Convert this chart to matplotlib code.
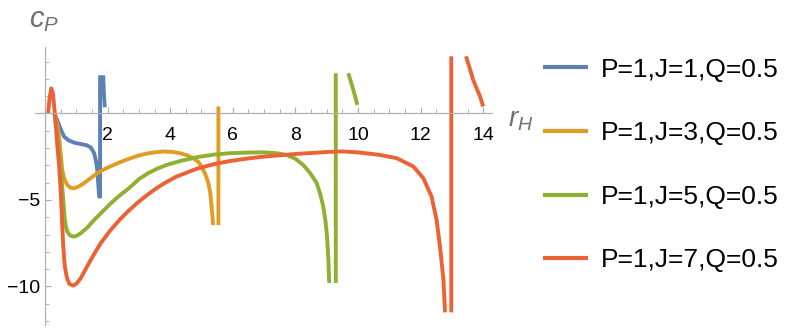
import matplotlib
matplotlib.use("Agg")
import matplotlib.pyplot as plt
import numpy as np

plt.rcParams['font.family'] = ['Liberation Sans', 'DejaVu Sans']
plt.rcParams['mathtext.fontset'] = 'custom'
plt.rcParams['mathtext.it'] = 'Liberation Sans:italic'
plt.rcParams['mathtext.rm'] = 'Liberation Sans'

nan = np.nan

# J=1 : left branch, pole line, right branch (nan breaks the line)
r_j1 = [0.32, 0.39, 0.50, 0.61, 0.75, 0.93, 1.15, 1.35, 1.47, 1.57, 1.63, 1.67, 1.70,
        1.73, 1.76, 1.76, nan, 1.86, 1.88, 1.91]
c_j1 = [-0.10, -0.38, -0.90, -1.34, -1.55, -1.69, -1.77, -1.85, -1.98, -2.30, -2.75,
        -3.27, -4.00, -4.81, -4.81, 2.20, nan, 2.20, 1.20, 0.35]

# J=3
r_j3 = [0.30, 0.38, 0.45, 0.50, 0.55, 0.62, 0.71, 0.80, 0.90, 1.05, 1.25, 1.45, 1.67,
        1.90, 2.10, 2.40, 2.68, 3.00, 3.25, 3.50, 3.78, 4.05, 4.31, 4.55, 4.74, 4.90,
        5.00, 5.12, 5.22, 5.28, 5.32, 5.35, 5.37, nan, 5.54, 5.54]
c_j3 = [0.0, -0.5, -1.34, -2.3, -3.27, -3.8, -4.13, -4.28, -4.33, -4.25, -4.03, -3.75,
        -3.46, -3.22, -3.05, -2.82, -2.62, -2.43, -2.32, -2.25, -2.2, -2.22, -2.3, -2.43,
        -2.59, -2.8, -3.07, -3.5, -4.03, -4.6, -5.38, -5.95, -6.45, nan, -6.45, 0.4]

# J=5
r_j5 = [0.30, 0.38, 0.45, 0.50, 0.55, 0.60, 0.63, 0.67, 0.71, 0.80, 0.90, 1.00, 1.14,
        1.35, 1.57, 1.85, 2.10, 2.40, 2.68, 3.00, 3.30, 3.60, 3.90, 4.30, 4.85, 5.40,
        5.91, 6.50, 6.97, 7.40, 7.72, 8.00, 8.25, 8.45, 8.60, 8.68, 8.80, 8.89, 8.96,
        9.01, 9.05, 9.08, nan, 9.29, 9.29, nan, 9.69, 9.77, 9.85, 9.92, 9.98]
c_j5 = [0.0, -1.0, -2.2, -3.2, -4.23, -5.4, -6.1, -6.55, -6.83, -7.05, -7.12, -7.08,
        -6.93, -6.6, -6.16, -5.65, -5.2, -4.72, -4.33, -3.8, -3.45, -3.18, -2.97, -2.76,
        -2.53, -2.38, -2.3, -2.26, -2.25, -2.3, -2.4, -2.62, -2.98, -3.4, -3.8, -4.03,
        -4.7, -5.38, -6.2, -7.1, -8.3, -9.8, nan, -9.8, 2.32, nan, 2.32, 1.85, 1.36,
        0.9, 0.49]

# J=7
r_j7 = [0.10, 0.14, 0.20, 0.25, 0.30, 0.35, 0.40, 0.45, 0.50, 0.54, 0.58, 0.63, 0.70,
        0.78, 0.90, 1.00, 1.14, 1.30, 1.46, 1.62, 1.78, 2.10, 2.40, 2.63, 2.90, 3.16,
        3.50, 3.78, 4.20, 4.85, 5.40, 5.91, 6.50, 6.97, 8.04, 9.10, 9.50, 10.00, 10.70,
        11.24, 11.77, 12.09, 12.35, 12.51, 12.62, 12.73, 12.78, nan, 12.98, 12.98, nan,
        13.45, 13.58, 13.68, 13.80, 13.90, 14.00]
c_j7 = [0.0, 0.8, 1.45, 1.2, 0.3, -0.8, -2.0, -3.0, -4.4, -6.0, -7.6, -8.8, -9.5, -9.85,
        -9.95, -9.85, -9.53, -9.0, -8.47, -7.98, -7.5, -6.73, -6.12, -5.7, -5.25, -4.86,
        -4.4, -4.07, -3.65, -3.2, -2.93, -2.75, -2.6, -2.5, -2.34, -2.22, -2.2, -2.25,
        -2.4, -2.59, -3.07, -3.75, -4.81, -6.16, -7.7, -9.62, -11.5, nan, -11.5, 3.3, nan,
        3.3, 2.55, 1.94, 1.4, 0.97, 0.4]

labels = ["P=1,J=1,Q=0.5", "P=1,J=3,Q=0.5", "P=1,J=5,Q=0.5", "P=1,J=7,Q=0.5"]
colors = ["#5E81B5", "#E19C24", "#8FB032", "#EB6235"]

fig = plt.figure(figsize=(7.93, 3.31), dpi=100)
ax = fig.add_axes([0.0441, 0.0181, 0.5763, 0.841])

series = [(r_j1, c_j1), (r_j3, c_j3), (r_j5, c_j5), (r_j7, c_j7)]
for (r, c), lab, col in zip(series, labels, colors):
    ax.plot(r, c, color=col, lw=2.8, label=lab, solid_capstyle='butt',
            solid_joinstyle='round')

ax.set_xlim(-0.32, 14.28)
ax.set_ylim(-12.23, 3.86)

for s in ['top', 'right']:
    ax.spines[s].set_visible(False)
ax.spines['left'].set_position(('data', 0))
ax.spines['bottom'].set_position(('data', 0))
for s in ['left', 'bottom']:
    ax.spines[s].set_color('#b0b0b0')
    ax.spines[s].set_linewidth(0.9)

ax.set_xticks([2, 4, 6, 8, 10, 12, 14])
ax.set_xticks(np.arange(0.5, 14.1, 0.5), minor=True)
ax.set_yticks([-10, -5])
ax.set_yticks(np.arange(-12, 4, 1), minor=True)
ax.tick_params(which='both', direction='in', color='#b0b0b0', labelsize=14,
               labelcolor='black')
ax.tick_params(which='major', length=4.5, width=0.9)
ax.tick_params(which='minor', length=2.8, width=0.7)
ax.tick_params(axis='x', pad=10)

fig.text(0.0555, 0.94, r'$c_P$', color='#707070', fontsize=21, ha='center', va='center')
fig.text(0.657, 0.6375, r'$r_H$', color='#707070', fontsize=20, ha='center', va='center')

leg = ax.legend(loc='upper left', bbox_to_anchor=(0.685, 0.826),
                bbox_transform=fig.transFigure, frameon=False, fontsize=19,
                handlelength=1.7, handletextpad=0.5, labelspacing=1.5,
                borderpad=0, borderaxespad=0)
for line in leg.get_lines():
    line.set_linewidth(3)

fig.savefig("out.png", dpi=100)
